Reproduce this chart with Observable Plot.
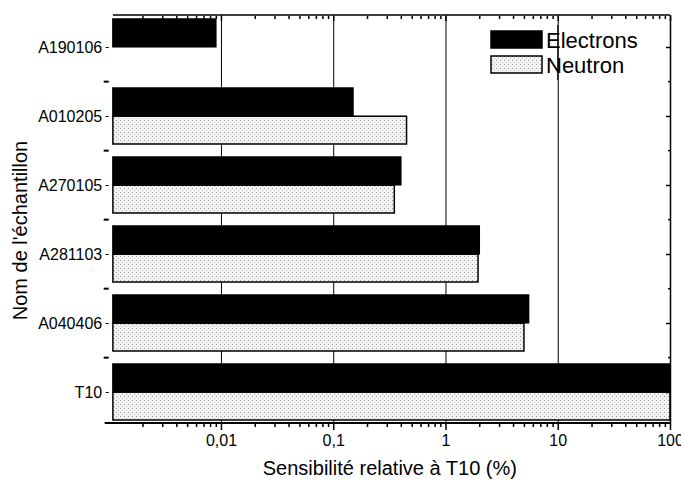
<!DOCTYPE html>
<html><head><meta charset="utf-8">
<script src="https://cdn.jsdelivr.net/npm/d3@7"></script>
<script src="https://cdn.jsdelivr.net/npm/@observablehq/plot@0.6"></script>
<style>
html,body{margin:0;padding:0;background:#fff;}
#chart{position:relative;width:681px;height:486px;}
</style></head><body><div id="chart"></div>
<script>
const samples = ["A190106","A010205","A270105","A281103","A040406","T10"];
const electrons = [0.009, 0.15, 0.40, 2.0, 5.5, 100];
const neutron = [null, 0.45, 0.35, 1.95, 5.0, 100];
const seriesNames = ["Electrons","Neutron"];
const xTicks = [0.01, 0.1, 1, 10, 100];
const xTickLabels = ["0,01","0,1","1","10","100"];
const xTitle = "Sensibilité relative à T10 (%)";
const yTitle = "Nom de l'échantillon";
const xDomain = [0.001, 100];
const barBase = 0.00109;

const rows = [];
samples.forEach((s, i) => {
  if (electrons[i] != null) rows.push({sample: s, series: seriesNames[0], value: electrons[i]});
  if (neutron[i] != null) rows.push({sample: s, series: seriesNames[1], value: neutron[i]});
});

const W = 681, H = 486, mT = 15, mB = 63, mL = 108.7, mR = 11;
const padIn = 0.19, padOut = 0.022;
const step = (H - mT - mB) / (samples.length - padIn + 2 * padOut);
const bw = step * (1 - padIn);
const half = bw / 2;
const font = '"Liberation Sans", Arial, sans-serif';

const minor = d3.scaleLog().domain(xDomain).ticks()
  .filter(t => Math.abs(Math.log10(t) - Math.round(Math.log10(t))) > 1e-6);
const labelOf = d => xTickLabels[xTicks.findIndex(t => Math.abs(t - d) < 1e-9)];
const blank = () => "";

const plot = Plot.plot({
  width: W, height: H,
  marginTop: mT, marginBottom: mB, marginLeft: mL, marginRight: mR,
  style: {fontFamily: font, background: "white", color: "black", overflow: "visible"},
  x: {type: "log", domain: xDomain},
  y: {domain: samples, paddingInner: padIn, paddingOuter: padOut},
  marks: [
    Plot.ruleX(xTicks.slice(0, -1), {stroke: "black", strokeWidth: 1}),
    Plot.barX(rows.filter(d => d.series === seriesNames[0]), {
      y: "sample", x1: () => barBase, x2: "value",
      fill: "black", stroke: "black", strokeWidth: 1.5, insetBottom: half
    }),
    Plot.barX(rows.filter(d => d.series === seriesNames[1]), {
      y: "sample", x1: () => barBase, x2: "value",
      fill: "url(#dots)", stroke: "black", strokeWidth: 1.5, insetTop: half
    }),
    Plot.ruleX([xDomain[1]], {stroke: "black", strokeWidth: 1.5}),
    Plot.axisX(xTicks, {anchor: "bottom", tickSize: 7, tickPadding: 4, tickFormat: labelOf, fontSize: 16, label: null, strokeWidth: 1.5}),
    Plot.axisX(minor, {anchor: "bottom", tickSize: 4, tickFormat: blank, label: null, strokeWidth: 1.5}),
    Plot.axisX(xTicks, {anchor: "top", tickSize: -5, tickFormat: blank, label: null, strokeWidth: 1.5}),
    Plot.axisX(minor, {anchor: "top", tickSize: -3, tickFormat: blank, label: null, strokeWidth: 1.5}),
    Plot.axisY({anchor: "left", tickSize: 3, tickPadding: 4, fontSize: 16, label: null}),
    Plot.axisY(samples.slice(1), {anchor: "left", tickSize: 5, dy: -step / 2, tickFormat: blank, label: null, strokeWidth: 2}),
    Plot.axisY({anchor: "right", tickSize: -5, tickFormat: blank, label: null, strokeWidth: 1.5}),
    Plot.axisY(samples.slice(1), {anchor: "right", tickSize: -3, dy: -step / 2, tickFormat: blank, label: null, strokeWidth: 1.5}),
    Plot.text([xTitle], {text: d => d, frameAnchor: "bottom", dy: 45, fontSize: 20, lineAnchor: "middle"}),
    Plot.text([yTitle], {text: d => d, frameAnchor: "left", textAnchor: "middle", rotate: -90, dx: -88.7, dy: 11, fontSize: 20, lineAnchor: "middle"})
  ]
});

const svg = d3.select(plot);
const defs = svg.insert("defs", ":first-child");
const pat = defs.append("pattern").attr("id", "dots").attr("width", 4).attr("height", 4).attr("patternUnits", "userSpaceOnUse");
pat.append("rect").attr("width", 4).attr("height", 4).attr("fill", "#f3f3f3");
pat.append("rect").attr("x", 0).attr("y", 0).attr("width", 1).attr("height", 1).attr("fill", "#9a9a9a");
pat.append("rect").attr("x", 2).attr("y", 2).attr("width", 1).attr("height", 1).attr("fill", "#bdbdbd");

const sx = plot.scale("x");
const xl = sx.apply(xDomain[0]) - 4, xr = sx.apply(xDomain[1]), xb = sx.apply(barBase);
svg.append("line").attr("x1", xl).attr("x2", xr).attr("y1", H - mB).attr("y2", H - mB).attr("stroke", "black").attr("stroke-width", 2);
svg.append("line").attr("x1", xb).attr("x2", xr).attr("y1", mT).attr("y2", mT).attr("stroke", "black").attr("stroke-width", 1.5);

// legend
const lg = svg.append("g").attr("font-family", font).attr("font-size", 22).attr("text-anchor", "start");
const legendFills = ["black", "url(#dots)"];
seriesNames.forEach((name, i) => {
  const y0 = 31 + i * 25;
  lg.append("rect").attr("x", 491).attr("y", y0).attr("width", 51).attr("height", 17)
    .attr("fill", legendFills[i]).attr("stroke", "black").attr("stroke-width", 1.5);
  lg.append("text").attr("x", 546).attr("y", y0 + 9).attr("dy", "0.35em").attr("fill", "black").text(name);
});
// gridline at 10 is drawn over the legend text in the reference
svg.append("line").attr("x1", sx.apply(10)).attr("x2", sx.apply(10)).attr("y1", 25).attr("y2", 80).attr("stroke", "black").attr("stroke-width", 1);

document.getElementById("chart").appendChild(plot);
</script></body></html>
